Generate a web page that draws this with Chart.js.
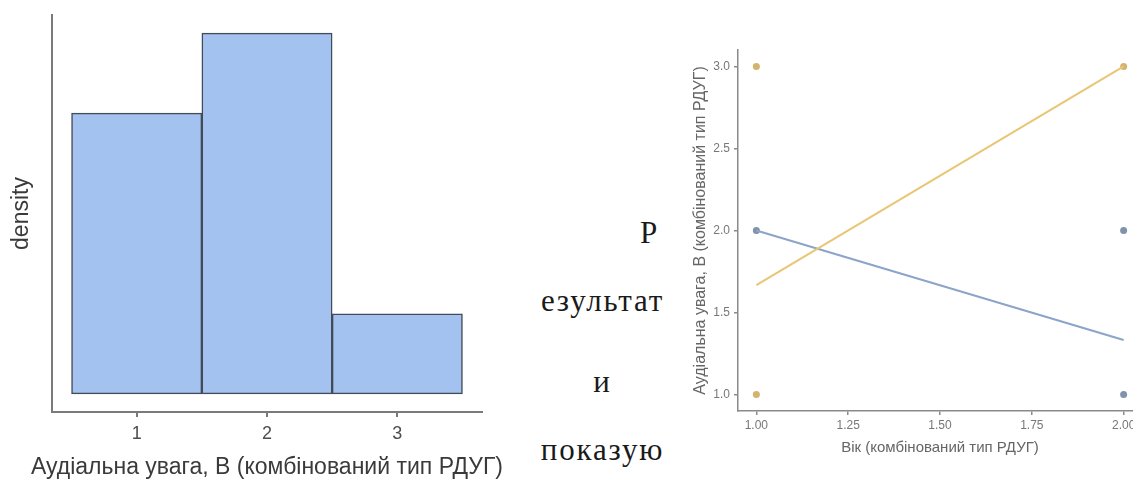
<!DOCTYPE html>
<html>
<head>
<meta charset="utf-8">
<script src="https://cdn.jsdelivr.net/npm/chart.js@4/dist/chart.umd.min.js"></script>
<style>
  html, body { margin: 0; padding: 0; background: #fff; overflow: hidden; width: 1133px; height: 481px; }
  #histWrap { position: absolute; left: 0; top: 0; width: 520px; height: 481px; }
  #lineWrap { position: absolute; left: 680px; top: 0; width: 480px; height: 481px; }
  #histTitle { position: absolute; left: 17px; width: 500px; top: 455px; text-align: center; font-family: "Liberation Sans", sans-serif; font-size: 23px; line-height: 23px; color: #3a3a3a; white-space: nowrap; }
  .word { position: absolute; font-family: "Liberation Serif", "DejaVu Serif", serif; font-size: 31px; line-height: 31px; letter-spacing: 1.8px; color: #1a1a1a; white-space: nowrap; }
</style>
</head>
<body>
<div id="histWrap"><canvas id="histChart"></canvas></div>
<div id="histTitle">Аудіальна увага, В (комбінований тип РДУГ)</div>
<div class="word" style="left:540px; width:119px; top:217px; text-align:right;">Р</div>
<div class="word" style="left:540px; width:125px; top:285px; text-align:center;">езультат</div>
<div class="word" style="left:540px; width:125px; top:366px; text-align:center;">и</div>
<div class="word" style="left:540px; width:125px; top:434px; text-align:center;">показую</div>
<div id="lineWrap"><canvas id="lineChart"></canvas></div>
<script>
// histogram: Аудіальна увага
const histBins = [1, 2, 3];
const histDensity = [0.389, 0.5, 0.111];
const histTicks = [1, 2, 3];

// scatter + fitted lines
const ageTicks = [1.00, 1.25, 1.50, 1.75, 2.00];
const attTicks = [1.0, 1.5, 2.0, 2.5, 3.0];
const orangeX = [1, 1, 2];
const orangeY = [3, 1, 3];
const blueX = [1, 2, 2];
const blueY = [2, 2, 1];
const orangeFitX = [1, 2];
const orangeFitY = [1.667, 3.0];
const blueFitX = [1, 2];
const blueFitY = [2.0, 1.333];

const axisGray = '#7a7a7a';
const labelGray = '#4d4d4d';

function pts(xs, ys) {
	return xs.map((x, i) => ({ x: x, y: ys[i] }));
}

// x title of the histogram is wider than the plot, so it sits in the page (#histTitle)
const histChart = new Chart(document.getElementById('histChart').getContext('2d'), {
	type: 'bar',
	data: {
		datasets: [{
			data: pts(histBins, histDensity),
			backgroundColor: '#a4c2f0',
			borderColor: '#434b57',
			borderWidth: 1.5,
			borderSkipped: false,
			barPercentage: 1,
			categoryPercentage: 1
		}]
	},
	options: {
		responsive: true,
		maintainAspectRatio: false,
		animation: false,
		layout: { padding: { top: 15, right: 38, left: 0, bottom: 0 } },
		plugins: { legend: { display: false }, tooltip: { enabled: false } },
		scales: {
			x: {
				type: 'linear',
				min: 0.35,
				max: 3.65,
				offset: false,
				afterBuildTicks: function(scale) { scale.ticks = histTicks.map(v => ({ value: v })); },
				afterFit: function(scale) { scale.height = 69; },
				grid: { display: true, offset: false, drawOnChartArea: false, drawTicks: true, tickLength: 5, color: axisGray, lineWidth: 2 },
				border: { display: true, color: axisGray, width: 2 },
				ticks: { color: labelGray, padding: 6, font: { family: 'Liberation Sans', size: 18 } },
				title: { display: false }
			},
			y: {
				min: -0.025,
				max: 0.525,
				afterFit: function(scale) { scale.width = 52; },
				grid: { display: false },
				border: { display: true, color: axisGray, width: 2 },
				ticks: { display: false },
				title: { display: true, text: 'density', color: '#3a3a3a', padding: { top: 8, bottom: 0 }, font: { family: 'Liberation Sans', size: 23 } }
			}
		}
	}
});

const lineChart = new Chart(document.getElementById('lineChart').getContext('2d'), {
	type: 'scatter',
	data: {
		datasets: [
			{
				type: 'line',
				data: pts(orangeFitX, orangeFitY),
				borderColor: '#e8c674',
				borderWidth: 2,
				pointRadius: 0,
				fill: false
			},
			{
				type: 'line',
				data: pts(blueFitX, blueFitY),
				borderColor: '#8ba4c9',
				borderWidth: 2,
				pointRadius: 0,
				fill: false
			},
			{
				data: pts(orangeX, orangeY),
				backgroundColor: '#d4b36c',
				borderWidth: 0,
				pointRadius: 3.5
			},
			{
				data: pts(blueX, blueY),
				backgroundColor: '#8192ab',
				borderWidth: 0,
				pointRadius: 3.5
			}
		]
	},
	options: {
		responsive: true,
		maintainAspectRatio: false,
		animation: false,
		layout: { padding: { top: 50, right: 18, left: 0, bottom: 0 } },
		plugins: { legend: { display: false }, tooltip: { enabled: false } },
		scales: {
			x: {
				type: 'linear',
				min: 0.95,
				max: 2.05,
				afterBuildTicks: function(scale) { scale.ticks = ageTicks.map(v => ({ value: v })); },
				afterFit: function(scale) { scale.height = 70; },
				grid: { display: true, drawOnChartArea: false, drawTicks: true, tickLength: 4, color: '#8a8a8a', lineWidth: 1.5 },
				border: { display: true, color: '#8a8a8a', width: 1.5 },
				ticks: { color: '#777', padding: 3, font: { family: 'Liberation Sans', size: 12 }, callback: v => Number(v).toFixed(2) },
				title: { display: true, text: 'Вік (комбінований тип РДУГ)', color: '#666', padding: { top: 0, bottom: 24.5 }, font: { family: 'Liberation Sans', size: 15 } }
			},
			y: {
				min: 0.9,
				max: 3.1,
				afterBuildTicks: function(scale) { scale.ticks = attTicks.map(v => ({ value: v })); },
				afterFit: function(scale) { scale.width = 58; },
				grid: { display: true, drawOnChartArea: false, drawTicks: true, tickLength: 4, color: '#8a8a8a', lineWidth: 1.5 },
				border: { display: true, color: '#8a8a8a', width: 1.5 },
				ticks: { color: '#777', padding: 4, font: { family: 'Liberation Sans', size: 12 }, callback: v => Number(v).toFixed(1) },
				title: { display: true, text: 'Аудіальна увага, В (комбінований тип РДУГ)', color: '#666', padding: { top: 10.5, bottom: 0 }, font: { family: 'Liberation Sans', size: 16 } }
			}
		}
	}
});
</script>
</body>
</html>
